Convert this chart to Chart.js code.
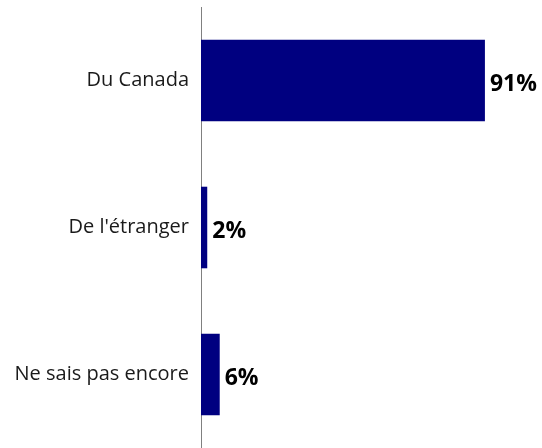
<!DOCTYPE html>
<html>
<head>
<meta charset="utf-8">
<script src="https://cdn.jsdelivr.net/npm/chart.js@4/dist/chart.umd.min.js"></script>
<style>
  body { margin: 0; background: #fff; }
</style>
</head>
<body>
<canvas id="chart" width="542" height="448"></canvas>
<script>
// categories and values
const categories = ["Du Canada", "De l'étranger", "Ne sais pas encore"];
const values = [91, 2, 6];
const valueLabels = ["91%", "2%", "6%"];

// draw the percent labels just past each bar end
const barLabels = {
  id: "barLabels",
  afterDatasetsDraw(chart) {
    const ctx = chart.ctx;
    const meta = chart.getDatasetMeta(0);
    ctx.save();
    ctx.font = "bold 23px 'Open Sans'";
    ctx.fillStyle = "#000";
    ctx.textAlign = "left";
    ctx.textBaseline = "middle";
    meta.data.forEach((bar, i) => {
      ctx.fillText(valueLabels[i], bar.x + 5, bar.y + 4);
    });
    ctx.restore();
  }
};

new Chart(document.getElementById("chart"), {
  type: "bar",
  data: {
    labels: categories,
    datasets: [{
      data: values,
      backgroundColor: "#000080",
      barPercentage: 0.555,
      categoryPercentage: 1
    }]
  },
  options: {
    indexAxis: "y",
    responsive: false,
    animation: false,
    layout: { padding: { top: 7, right: 29, bottom: 0, left: 0 } },
    plugins: {
      legend: { display: false },
      tooltip: { enabled: false }
    },
    scales: {
      x: {
        display: false,
        min: 0,
        max: 100
      },
      y: {
        afterFit(scale) {
          scale.width = 201;
          scale.paddingTop = 0;
          scale.paddingBottom = 0;
        },
        grid: { display: false, drawTicks: false },
        border: { display: true, color: "#808080", width: 1 },
        ticks: {
          color: "#1a1a1a",
          padding: 12,
          font: { family: "'Open Sans'", size: 20 }
        }
      }
    }
  },
  plugins: [barLabels]
});
</script>
</body>
</html>
